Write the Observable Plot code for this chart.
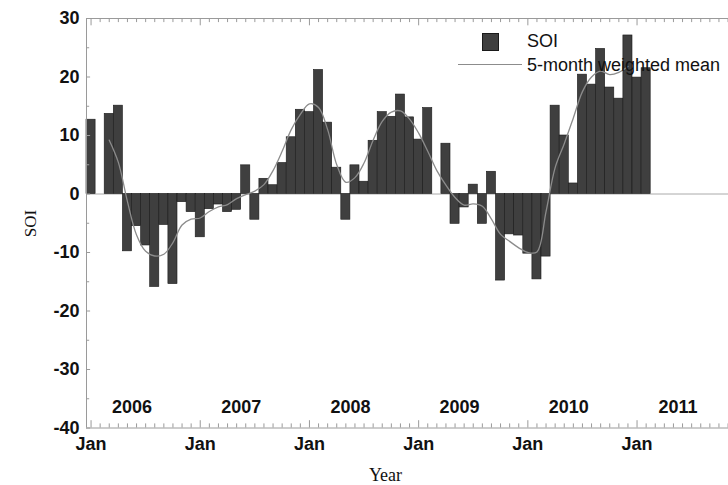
<!DOCTYPE html>
<html>
<head>
<meta charset="utf-8">
<script src="https://cdn.jsdelivr.net/npm/d3@7"></script>
<script src="https://cdn.jsdelivr.net/npm/@observablehq/plot@0.6"></script>
<style>
  html, body { margin: 0; padding: 0; background: #fff; }
  #wrap { position: relative; width: 728px; height: 485px; overflow: hidden; }
  #legend { position: absolute; left: 0; top: 0; font-family: "Liberation Sans", Arial, sans-serif; font-size: 18px; color: #111; }
  .sw { position: absolute; left: 482px; top: 33px; width: 15px; height: 16px; background: #3f3f3f; border: 1px solid #1a1a1a; }
  .ln { position: absolute; left: 458px; top: 64px; width: 64px; height: 0; border-top: 1.5px solid #8c8c8c; }
  .t1 { position: absolute; left: 527px; top: 30px; line-height: 22px; white-space: nowrap; }
  .t2 { position: absolute; left: 527px; top: 54px; line-height: 22px; white-space: nowrap; }
</style>
</head>
<body>
<div id="wrap">
  <div id="chart"></div>
  <div id="legend">
    <div class="sw"></div><div class="t1">SOI</div>
    <div class="ln"></div><div class="t2">5-month weighted mean</div>
  </div>
</div>
<script>
// Monthly SOI values, Jan 2006 .. Feb 2011 (index 0 = Jan 2006)
const soi = [
  12.7, 0.0, 13.7, 15.1, -9.8, -5.5, -8.8, -15.9, -5.3, -15.4, -1.4, -3.1,
  -7.4, -2.6, -1.8, -3.1, -2.7, 4.9, -4.4, 2.6, 1.5, 5.3, 9.7, 14.4,
  14.0, 21.2, 12.2, 4.5, -4.4, 4.9, 2.1, 9.1, 14.0, 13.2, 17.0, 13.1,
  9.3, 14.7, 0.0, 8.6, -5.1, -2.3, 1.6, -5.1, 3.8, -14.8, -6.9, -7.1,
  -10.2, -14.6, -10.7, 15.1, 10.0, 1.8, 20.4, 18.7, 24.8, 18.2, 16.3, 27.1,
  19.9, 21.5
];
// 5-month weighted mean, Mar 2006 .. Dec 2010 (first index = 2)
const meanStart = 2;
const soiMean = [
  9.2, 5.4, -1.3, -7.0, -9.8, -10.6, -10.3, -8.3, -5.3, -4.3,
  -4.1, -3.0, -2.2, -1.8, -0.8, -0.1, 0.5, 1.6, 4.0, 7.3, 11.0, 13.6,
  15.4, 14.8, 11.0, 5.0, 2.0, 2.8, 5.3, 9.2, 12.4, 14.0, 14.2, 12.8,
  10.4, 7.3, 4.0, 1.5, -0.6, -1.9, -1.7, -2.1, -4.3, -6.9, -8.1, -9.2,
  -10.0, -9.9, -3.0, 4.5, 8.6, 13.0, 17.5, 20.0, 21.0, 20.4, 20.8, 21.8
];
const yearLabels = ["2006", "2007", "2008", "2009", "2010", "2011"];
const xTickLabels = ["Jan", "Jan", "Jan", "Jan", "Jan", "Jan"];
const yTicks = [-40, -30, -20, -10, 0, 10, 20, 30];

const bars = soi.map((v, i) => ({i, v}));
const mean = soiMean.map((v, k) => ({i: k + meanStart, v}));
const monthTicks = d3.range(0, 71);
const janTicks = d3.range(0, 61, 12);
const yMinor = d3.range(-40, 31, 5);

const font = "Liberation Sans, Arial, sans-serif";
const axisCol = "#9a9a9a";

const chart = Plot.plot({
  width: 728,
  height: 485,
  marginLeft: 86,
  marginRight: 0,
  marginTop: 18,
  marginBottom: 57.5,
  x: {domain: [-0.5, 70.05], axis: null},
  y: {domain: [-40, 30], axis: null},
  style: {fontFamily: font, background: "white", overflow: "visible"},
  marks: [
    Plot.ruleY([0], {stroke: "#aaa", strokeWidth: 1}),
    Plot.rect(bars, {x1: d => d.i - 0.5, x2: d => d.i + 0.5, y1: 0, y2: "v",
      fill: "#3f3f3f", stroke: "#1a1a1a", strokeWidth: 0.6}),
    Plot.line(mean, {x: "i", y: "v", curve: "catmull-rom", stroke: "#8c8c8c", strokeWidth: 1.3}),
    // frame (left, top, bottom)
    Plot.ruleY([30, -40], {stroke: axisCol, strokeWidth: 1}),
    Plot.ruleX([-0.5], {stroke: axisCol, strokeWidth: 1}),
    // month ticks, top and bottom, pointing inward
    Plot.ruleX(monthTicks, {x: d => d, y1: 30, y2: d => 30 - (d % 12 === 0 ? 1.25 : 0.7), stroke: axisCol}),
    Plot.ruleX(monthTicks, {x: d => d, y1: -40, y2: d => -40 + (d % 12 === 0 ? 1.25 : 0.7), stroke: axisCol}),
    // y ticks, pointing inward
    Plot.ruleY(yMinor, {y: d => d, x1: -0.5, x2: d => -0.5 + (d % 10 === 0 ? 0.45 : 0.35), stroke: axisCol}),
    // y tick labels
    Plot.text(yTicks, {y: d => d, frameAnchor: "left", dx: -7, textAnchor: "end",
      text: d => String(d), fontSize: 18, fontWeight: "bold", fill: "#111"}),
    // x tick labels
    Plot.text(janTicks, {x: d => d, frameAnchor: "bottom", dy: 21.5,
      text: (d, i) => xTickLabels[i], fontSize: 18, fontWeight: "bold", fill: "#111"}),
    // year labels inside plot
    Plot.text(yearLabels, {x: (d, i) => i * 12 + 4.5, frameAnchor: "bottom", dy: -15,
      text: d => d, fontSize: 18, fontWeight: "bold", fill: "#111"}),
    // axis titles
    Plot.text(["SOI"], {frameAnchor: "left", dx: -56, dy: 14, rotate: -90, text: d => d,
      fontFamily: "Liberation Serif, Times New Roman, serif", fontSize: 17, fill: "#111"}),
    Plot.text(["Year"], {frameAnchor: "bottom", dx: -22, dy: 53, text: d => d,
      fontFamily: "Liberation Serif, Times New Roman, serif", fontSize: 18, fill: "#111"})
  ]
});
document.getElementById("chart").appendChild(chart);
</script>
</body>
</html>
